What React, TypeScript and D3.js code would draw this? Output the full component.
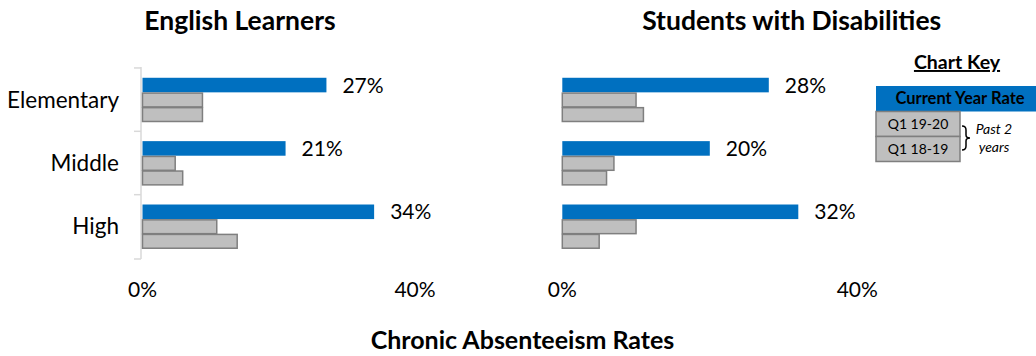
import React from "react";
import * as d3 from "d3";

// School levels shown on each panel
const levels = ["Elementary", "Middle", "High"];
// Bar series, drawn top to bottom within each level
const seriesNames = ["Current Year Rate", "Q1 19-20", "Q1 18-19"];

// English Learners chronic absenteeism (%)
const elCurrent = [27, 21, 34];
const elQ1_1920 = [8.8, 4.8, 10.9];
const elQ1_1819 = [8.8, 5.9, 13.9];

// Students with Disabilities chronic absenteeism (%)
const swdCurrent = [28, 20, 32];
const swdQ1_1920 = [10, 7, 10];
const swdQ1_1819 = [11, 6, 5];

const xTicks = [0, 40];

const FONT = "Lato, 'Open Sans', sans-serif";
const BLUE = "#0070c0";
const GRAY = "#bfbfbf";
const GRAY_STROKE = "#7f7f7f";

type Panel = {
  title: string;
  titleX: number;
  values: number[][];
  xRange: [number, number];
  showAxis: boolean;
};

const panels: Panel[] = [
  {
    title: "English Learners",
    titleX: 240,
    values: [elCurrent, elQ1_1920, elQ1_1819],
    xRange: [142.5, 415],
    showAxis: true,
  },
  {
    title: "Students with Disabilities",
    titleX: 791.7,
    values: [swdCurrent, swdQ1_1920, swdQ1_1819],
    xRange: [562.3, 857.3],
    showAxis: false,
  },
];

const yOuter = d3.scaleBand<string>().domain(levels).range([67, 259]).paddingInner(0.31).paddingOuter(0.17);
const yInner = d3.scaleBand<string>().domain(seriesNames).range([0, yOuter.bandwidth()]);

function PanelView({ p }: { p: Panel }) {
  const x = d3.scaleLinear().domain([0, 40]).range(p.xRange);
  const axisX = p.xRange[0] - 1.5;
  const tickYs = [
    ...levels.map((l) => (yOuter(l) as number) - (yOuter.step() * yOuter.paddingInner()) / 2),
    yOuter.range()[1],
  ];
  return (
    <g>
      <text
        x={p.titleX}
        y={30}
        textAnchor="middle"
        fontFamily={FONT}
        fontWeight="bold"
        fontSize={26.5}
        fill="#000"
      >
        {p.title}
      </text>
      {p.showAxis && (
        <g stroke="#d9d9d9" strokeWidth={1.5} fill="none">
          <line x1={axisX} x2={axisX} y1={yOuter.range()[0]} y2={yOuter.range()[1]} />
          {tickYs.map((ty, i) => (
            <line key={i} x1={axisX - 7} x2={axisX} y1={ty} y2={ty} />
          ))}
        </g>
      )}
      {levels.map((lvl, li) => (
        <g key={lvl} transform={`translate(0,${yOuter(lvl)})`}>
          {seriesNames.map((s, si) => {
            const v = p.values[si][li];
            const y0 = yInner(s) as number;
            const h = yInner.bandwidth();
            return si === 0 ? (
              <rect key={s} x={x(0)} y={y0} width={x(v) - x(0)} height={h} fill={BLUE} />
            ) : (
              <rect
                key={s}
                x={x(0)}
                y={y0 + 0.75}
                width={x(v) - x(0)}
                height={h - 0.75}
                fill={GRAY}
                stroke={GRAY_STROKE}
                strokeWidth={1.5}
              />
            );
          })}
          <text
            x={x(p.values[0][li]) + 16}
            y={(yInner(seriesNames[0]) as number) + yInner.bandwidth() / 2}
            dy="0.36em"
            fontFamily={FONT}
            fontSize={21}
            fill="#000"
          >
            {`${p.values[0][li]}%`}
          </text>
        </g>
      ))}
      {p.showAxis &&
        levels.map((lvl) => (
          <text
            key={lvl}
            x={119}
            y={(yOuter(lvl) as number) + yOuter.bandwidth() / 2}
            dy="0.36em"
            textAnchor="end"
            fontFamily={FONT}
            fontSize={22.5}
            fill="#000"
          >
            {lvl}
          </text>
        ))}
      {xTicks.map((t) => (
        <text key={t} x={x(t)} y={297} textAnchor="middle" fontFamily={FONT} fontSize={21} fill="#000">
          {`${t}%`}
        </text>
      ))}
    </g>
  );
}

function ChartKey() {
  const kx = 876;
  const kw = 84;
  const bh = 25;
  return (
    <g fontFamily={FONT} fill="#000">
      <text x={957} y={69} textAnchor="middle" fontWeight="bold" fontSize={19.5} textDecoration="underline">
        Chart Key
      </text>
      <rect x={kx} y={86} width={1036 - kx} height={bh + 0.5} fill={BLUE} />
      <text x={960} y={86 + bh / 2} dy="0.36em" textAnchor="middle" fontWeight="bold" fontSize={16.5}>
        {seriesNames[0]}
      </text>
      {seriesNames.slice(1).map((s, i) => (
        <g key={s}>
          <rect
            x={kx}
            y={111.5 + i * bh}
            width={kw}
            height={bh}
            fill={GRAY}
            stroke={GRAY_STROKE}
            strokeWidth={1.5}
          />
          <text x={kx + kw / 2} y={111.5 + i * bh + bh / 2} dy="0.36em" textAnchor="middle" fontSize={14}>
            {s}
          </text>
        </g>
      ))}
      <path
        d="M962,126 Q966,126 966,130 L966,135 Q966,138 970,138 Q966,138 966,141 L966,146 Q966,150 962,150"
        fill="none"
        stroke="#000"
        strokeWidth={1.5}
      />
      <text x={994} y={134} textAnchor="middle" fontStyle="italic" fontSize={14}>
        Past 2
      </text>
      <text x={994} y={152} textAnchor="middle" fontStyle="italic" fontSize={14}>
        years
      </text>
    </g>
  );
}

export default function App() {
  return (
    <svg
      width={1036}
      height={356}
      viewBox="0 0 1036 356"
      style={{ position: "absolute", left: 0, top: 0, background: "#fff" }}
    >
      <rect width={1036} height={356} fill="#fff" />
      {panels.map((p) => (
        <PanelView key={p.title} p={p} />
      ))}
      <ChartKey />
      <text x={522.5} y={349} textAnchor="middle" fontFamily={FONT} fontWeight="bold" fontSize={25} fill="#000">
        Chronic Absenteeism Rates
      </text>
    </svg>
  );
}
